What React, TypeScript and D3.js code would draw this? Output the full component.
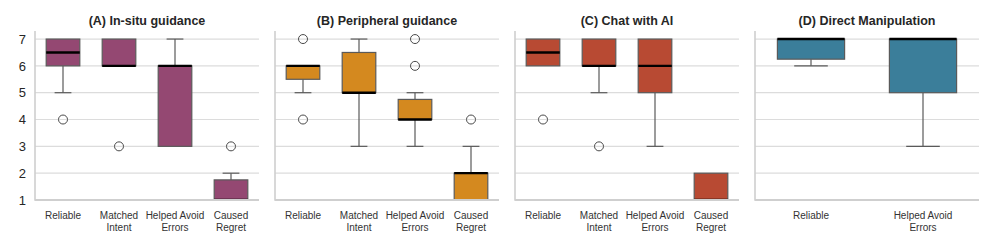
import { useEffect, useRef } from "react";
import * as d3 from "d3";

// panels and their categories
const panelTitles = [
  "(A) In-situ guidance",
  "(B) Peripheral guidance",
  "(C) Chat with AI",
  "(D) Direct Manipulation",
];
const panelColors = ["#944872", "#d4891f", "#b84a33", "#3b7e9a"];

const catsFull = ["Reliable", "Matched Intent", "Helped Avoid Errors", "Caused Regret"];
const catsDirect = ["Reliable", "Helped Avoid Errors"];

// label line breaks
const labelLines: Record<string, string[]> = {
  Reliable: ["Reliable"],
  "Matched Intent": ["Matched", "Intent"],
  "Helped Avoid Errors": ["Helped Avoid", "Errors"],
  "Caused Regret": ["Caused", "Regret"],
};

// box stats: [whiskerLow, q1, median, q3, whiskerHigh]
const statsA = [
  [5, 6, 6.5, 7, 7],
  [6, 6, 6, 7, 7],
  [3, 3, 6, 6, 7],
  [1, 1, 1, 1.75, 2],
];
const outliersA = [[4], [3], [], [3]];

const statsB = [
  [5, 5.5, 6, 6, 6],
  [3, 5, 5, 6.5, 7],
  [3, 4, 4, 4.75, 5],
  [1, 1, 2, 2, 3],
];
const outliersB = [[7, 4], [], [7, 6], [4]];

const statsC = [
  [6, 6, 6.5, 7, 7],
  [5, 6, 6, 7, 7],
  [3, 5, 6, 7, 7],
  [1, 1, 1, 2, 2],
];
const outliersC = [[4], [3], [], []];

const statsD = [
  [6, 6.25, 7, 7, 7],
  [3, 5, 7, 7, 7],
];
const outliersD = [[], []];

const yTicks = [1, 2, 3, 4, 5, 6, 7];

const App = () => {
  const ref = useRef<SVGSVGElement>(null);

  useEffect(() => {
    document.body.style.margin = "0";
    if (!ref.current) return;
    const svg = d3.select(ref.current);
    svg.selectAll("*").remove();

    const font = "'Liberation Sans', Arial, sans-serif";
    const panelW = 224;
    const panelX = [35, 275, 515, 755];
    const y = d3.scaleLinear().domain([1, 7.3]).range([200, 31]);

    const panels = [
      { cats: catsFull, stats: statsA, outs: outliersA },
      { cats: catsFull, stats: statsB, outs: outliersB },
      { cats: catsFull, stats: statsC, outs: outliersC },
      { cats: catsDirect, stats: statsD, outs: outliersD },
    ];

    svg.append("defs")
      .append("clipPath")
      .attr("id", "plotclip")
      .append("rect")
      .attr("x", 0)
      .attr("y", y(7.3))
      .attr("width", panelW)
      .attr("height", y(1) - y(7.3));

    panels.forEach((p, pi) => {
      const g = svg.append("g").attr("transform", `translate(${panelX[pi]},0)`);
      const x = d3.scaleBand<string>().domain(p.cats).range([0, panelW]);
      const bw = x.bandwidth() * 0.6;

      // grid
      g.selectAll("line.grid")
        .data(yTicks.slice(1))
        .join("line")
        .attr("x1", 0)
        .attr("x2", panelW)
        .attr("y1", (d) => y(d))
        .attr("y2", (d) => y(d))
        .attr("stroke", "#dcdcdc")
        .attr("stroke-width", 1.2);

      const plot = g.append("g").attr("clip-path", "url(#plotclip)");

      if (pi === 0) {
        g.selectAll("text.ytick")
          .data(yTicks)
          .join("text")
          .attr("x", -9)
          .attr("y", (d) => y(d))
          .attr("dy", "0.36em")
          .attr("text-anchor", "end")
          .attr("font-family", font)
          .attr("font-size", 13)
          .attr("fill", "#262626")
          .text((d) => d);
      }

      g.append("text")
        .attr("x", panelW / 2)
        .attr("y", 25)
        .attr("text-anchor", "middle")
        .attr("font-family", font)
        .attr("font-weight", "bold")
        .attr("font-size", 12.5)
        .attr("fill", "#262626")
        .text(panelTitles[pi]);

      p.cats.forEach((c, ci) => {
        const [lo, q1, med, q3, hi] = p.stats[ci];
        const cx = x(c)! + x.bandwidth() / 2;
        const stroke = "#5a5a5a";

        // whiskers
        if (hi > q3) {
          plot.append("line").attr("x1", cx).attr("x2", cx).attr("y1", y(q3)).attr("y2", y(hi))
            .attr("stroke", stroke).attr("stroke-width", 1.2);
          plot.append("line").attr("x1", cx - bw / 4).attr("x2", cx + bw / 4).attr("y1", y(hi)).attr("y2", y(hi))
            .attr("stroke", stroke).attr("stroke-width", 1.2);
        }
        if (lo < q1) {
          plot.append("line").attr("x1", cx).attr("x2", cx).attr("y1", y(q1)).attr("y2", y(lo))
            .attr("stroke", stroke).attr("stroke-width", 1.2);
          plot.append("line").attr("x1", cx - bw / 4).attr("x2", cx + bw / 4).attr("y1", y(lo)).attr("y2", y(lo))
            .attr("stroke", stroke).attr("stroke-width", 1.2);
        }

        plot.append("rect")
          .attr("x", cx - bw / 2)
          .attr("width", bw)
          .attr("y", y(q3))
          .attr("height", y(q1) - y(q3))
          .attr("fill", panelColors[pi])
          .attr("stroke", stroke)
          .attr("stroke-width", 1.2);

        plot.append("line")
          .attr("x1", cx - bw / 2).attr("x2", cx + bw / 2)
          .attr("y1", y(med)).attr("y2", y(med))
          .attr("stroke", "#000").attr("stroke-width", 2.4);

        plot.selectAll(null)
          .data(p.outs[ci])
          .join("circle")
          .attr("cx", cx)
          .attr("cy", (d) => y(d))
          .attr("r", 4.5)
          .attr("fill", "none")
          .attr("stroke", "#4a4a4a")
          .attr("stroke-width", 1);

        const lines = labelLines[c];
        lines.forEach((ln, li) => {
          g.append("text")
            .attr("x", cx)
            .attr("y", 219 + li * 11.5)
            .attr("text-anchor", "middle")
            .attr("font-family", font)
            .attr("font-size", 10)
            .attr("fill", "#333")
            .text(ln);
        });
      });

      // axes drawn on top
      g.append("line")
        .attr("x1", 0).attr("x2", 0)
        .attr("y1", y(7.3)).attr("y2", y(1) + 0.8)
        .attr("stroke", "#cfcfcf").attr("stroke-width", 1.6);
      g.append("line")
        .attr("x1", 0).attr("x2", panelW)
        .attr("y1", y(1)).attr("y2", y(1))
        .attr("stroke", "#cfcfcf").attr("stroke-width", 2);
    });
  }, []);

  return <svg ref={ref} width={996} height={249} style={{ display: "block", background: "#fff" }} />;
};

export default App;
